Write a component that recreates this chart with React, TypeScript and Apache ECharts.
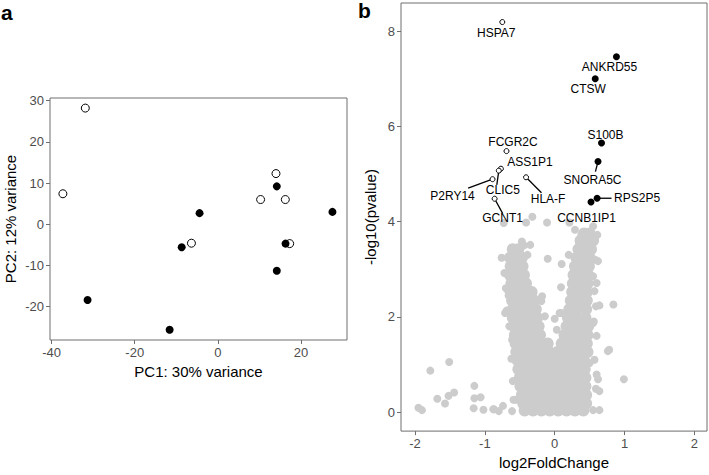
import React, { useEffect, useRef } from "react";
import * as echarts from "echarts";

// ---------- Panel a: PCA ----------
const PCA_OPEN_X = [-31.9, -37.3, 14.0, 10.3, 16.25, -6.35, 17.3];
const PCA_OPEN_Y = [28.2, 7.4, 12.3, 6.0, 6.0, -4.6, -4.7];
const PCA_FILLED_X = [14.2, -4.4, 27.6, -8.7, 16.3, 14.2, -31.35, -11.6];
const PCA_FILLED_Y = [9.2, 2.7, 3.0, -5.6, -4.7, -11.3, -18.4, -25.6];
const PCA_X_TICKS = [-40, -20, 0, 20];
const PCA_Y_TICKS = [-20, -10, 0, 10, 20, 30];

// ---------- Panel b: volcano ----------
const VOLC_X_TICKS = [-2, -1, 0, 1, 2];
const VOLC_Y_TICKS = [0, 2, 4, 6, 8];

const OPEN_GENES = ["HSPA7", "FCGR2C", "ASS1P1", "CLIC5", "P2RY14", "HLA-F", "GCNT1"];
const OPEN_LFC = [-0.75, -0.69, -0.77, -0.8, -0.89, -0.41, -0.86];
const OPEN_P = [8.19, 5.48, 5.11, 5.07, 4.89, 4.93, 4.48];

const FILLED_GENES = ["ANKRD55", "CTSW", "S100B", "SNORA5C", "RPS2P5", "CCNB1IP1"];
const FILLED_LFC = [0.884, 0.58, 0.67, 0.62, 0.607, 0.52];
const FILLED_P = [7.46, 7.0, 5.65, 5.26, 4.49, 4.41];

// dense part of the gene cloud, row by row: [ -log10 p, log2FC values... ]
const CLOUD_ROWS: number[][] = [
  [3.75, 0.42, 0.5],
  [3.6, 0.37, 0.47, 0.55],
  [3.42, -0.6, -0.52, 0.34, 0.44, 0.52],
  [3.24, -0.64, -0.55, -0.47, 0.31, 0.41, 0.5],
  [3.06, -0.63, -0.53, -0.46, 0.29, 0.39, 0.49],
  [2.88, -0.64, -0.54, -0.44, 0.27, 0.37, 0.48],
  [2.7, -0.62, -0.52, -0.41, 0.26, 0.36, 0.47],
  [2.52, -0.63, -0.53, -0.42, -0.33, 0.25, 0.35, 0.46],
  [2.34, -0.61, -0.51, -0.4, -0.29, 0.23, 0.34, 0.46],
  [2.16, -0.6, -0.5, -0.39, -0.27, 0.21, 0.32, 0.45],
  [1.98, -0.6, -0.49, -0.37, -0.25, 0.19, 0.3, 0.44],
  [1.8, -0.58, -0.47, -0.35, -0.23, 0.17, 0.28, 0.4, 0.48],
  [1.62, -0.57, -0.46, -0.34, -0.21, 0.14, 0.26, 0.38, 0.47],
  [1.44, -0.56, -0.45, -0.33, -0.21, -0.1, 0.1, 0.22, 0.34, 0.46],
  [1.26, -0.55, -0.44, -0.32, -0.2, -0.08, 0.04, 0.16, 0.28, 0.4, 0.47],
  [1.08, -0.53, -0.42, -0.3, -0.18, -0.06, 0.06, 0.18, 0.3, 0.42],
  [0.9, -0.52, -0.41, -0.29, -0.17, -0.05, 0.07, 0.19, 0.31, 0.43],
  [0.72, -0.5, -0.38, -0.26, -0.14, -0.02, 0.1, 0.22, 0.34, 0.44],
  [0.54, -0.49, -0.38, -0.26, -0.14, -0.02, 0.1, 0.22, 0.34, 0.44],
  [0.36, -0.47, -0.35, -0.23, -0.11, 0.01, 0.13, 0.25, 0.37, 0.45],
  [0.18, -0.45, -0.34, -0.22, -0.1, 0.02, 0.14, 0.26, 0.38, 0.45],
  [0.03, -0.43, -0.31, -0.19, -0.07, 0.05, 0.17, 0.29, 0.41],
];

// individual genes at the edge of the cloud and outliers
const SCATTER_LFC = [
  -0.73, -0.41, -0.32, -0.11, 0.21, 0.29, 0.38, 0.48, 0.55, 0.61, 0.45, 0.52, 0.35,
  -0.35, -0.53, -0.44, -0.62, -0.72, -0.76, -0.69, -0.66, -0.7,
  -0.1, 0.1, 0.09, 0.1, 0.0, 0.03, -0.18, -0.19, -0.14, 0.07,
  0.84, 0.64, 0.59, 0.78, 0.76, 0.99, 0.6, 0.62, 0.59, 0.64, 0.55, 0.64, 0.38, 0.57, 0.55, 0.58, 0.6, 0.56, 0.57,
  -1.95, -1.9, -1.78, -1.51, -1.68, -1.57, -1.52, -1.44, -1.15, -1.15, -1.06, -1.16, -1.02, -0.88, -0.8, -0.74,
  -0.61, -0.59, -0.6, -0.62, -0.87,
  -0.67, -0.71, -0.65, -0.61, -0.55, 0.62, 0.6, 0.55, 0.5, -0.39, -0.47, 0.2, -0.24, 0.14,
];
const SCATTER_P = [
  3.97, 3.98, 4.1, 3.98, 3.98, 3.83, 3.72, 3.72, 3.9, 3.72, 3.6, 3.62, 3.55,
  3.51, 3.18, 3.5, 3.44, 2.92, 3.24, 2.13, 2.45, 2.6,
  3.22, 3.11, 2.62, 2.08, 1.96, 1.73, 2.43, 2.33, 2.01, 2.08,
  2.26, 2.24, 2.22, 1.31, 1.28, 0.69, 0.79, 0.69, 0.49, 0.44, 0.04, 0.04, 0.04, 2.54, 2.85, 3.2, 1.6, 1.9, 1.1,
  0.09, 0.04, 0.87, 1.05, 0.28, 0.18, 0.34, 0.41, 0.55, 0.29, 0.31, 0.08, 0.05, 0.06, 0.02, 0.13,
  0.02, 0.26, 0.65, 1.12, 0.06,
  2.92, 2.08, 1.8, 1.52, 0.26, 3.17, 2.71, 1.87, 1.03, 3.3, 3.58, 3.3, 1.6, 1.48,
];

// label placement (pixel offsets from the point) and leader-line end (pixel offsets)
const LABEL_PLACE: Record<string, { dx: number; dy: number; lx?: number; ly?: number }> = {
  HSPA7: { dx: -6, dy: 10.5 },
  ANKRD55: { dx: -7, dy: 10 },
  CTSW: { dx: -7, dy: 10.5 },
  S100B: { dx: 4, dy: -8 },
  FCGR2C: { dx: 6.5, dy: -9 },
  ASS1P1: { dx: 29, dy: -7 },
  SNORA5C: { dx: -5.5, dy: 18.5, lx: -2.6, ly: 10 },
  P2RY14: { dx: -40, dy: 16.5, lx: -24.4, ly: 9 },
  CLIC5: { dx: 4, dy: 19, lx: -2, ly: 14.3 },
  "HLA-F": { dx: 22, dy: 22, lx: 15.4, ly: 15.4 },
  RPS2P5: { dx: 40, dy: 0, lx: 14.4, ly: 0 },
  GCNT1: { dx: 8, dy: 19.5, lx: 8, ly: 14.6 },
  CCNB1IP1: { dx: -4.5, dy: 16 },
};

const FONT = "'Liberation Sans', Arial, Helvetica, sans-serif";
const GREY = "#cccccc";
const FRAME = "#6e6e6e";

function valueAxis(
  gridIndex: number,
  min: number,
  max: number,
  ticks: number[],
  name: string,
  nameGap: number,
  isY: boolean
) {
  return {
    type: "value",
    gridIndex,
    min,
    max,
    name,
    nameLocation: "middle",
    nameGap,
    nameRotate: isY ? 90 : 0,
    nameTextStyle: { fontFamily: FONT, fontSize: 15, color: "#000" },
    axisLine: { show: false, onZero: false },
    axisTick: {
      show: true,
      inside: false,
      length: 4,
      customValues: ticks,
      lineStyle: { color: FRAME, width: 1 },
    },
    axisLabel: {
      show: true,
      customValues: ticks,
      fontFamily: FONT,
      fontSize: 13,
      color: "#4d4d4d",
      margin: 6,
    },
    splitLine: { show: false },
  };
}

function labelled(names: string[], xs: number[], ys: number[]) {
  return names.map((n, i) => {
    const p = LABEL_PLACE[n];
    return {
      name: n,
      value: [xs[i], ys[i]],
      label: {
        show: true,
        position: "inside",
        offset: [p.dx, p.dy],
        formatter: n,
        fontFamily: FONT,
        fontSize: 12,
        color: "#000",
      },
    };
  });
}

function leaders(names: string[], xs: number[], ys: number[]) {
  const out: number[][] = [];
  names.forEach((n, i) => {
    const p = LABEL_PLACE[n];
    if (p.lx !== undefined && p.ly !== undefined) out.push([xs[i], ys[i], p.lx, p.ly]);
  });
  return out;
}

export default function App() {
  const ref = useRef<HTMLDivElement>(null);

  useEffect(() => {
    if (!ref.current) return;
    const chart = echarts.init(ref.current, undefined, { renderer: "svg" });

    const cloud: number[][] = [];
    CLOUD_ROWS.forEach((row) => {
      for (let k = 1; k < row.length; k++) cloud.push([row[k], row[0]]);
    });
    const scatter = SCATTER_LFC.map((x, i) => [x, SCATTER_P[i]]);
    const leaderData = [
      ...leaders(OPEN_GENES, OPEN_LFC, OPEN_P),
      ...leaders(FILLED_GENES, FILLED_LFC, FILLED_P),
    ];

    const option: any = {
      animation: false,
      backgroundColor: "#fff",
      textStyle: { fontFamily: FONT },
      grid: [
        { left: 50, top: 98, width: 297, height: 242, show: true, borderColor: FRAME, borderWidth: 1, backgroundColor: "transparent" },
        { left: 401, top: 3, width: 306, height: 429, show: true, borderColor: FRAME, borderWidth: 1, backgroundColor: "transparent" },
      ],
      xAxis: [
        valueAxis(0, -40.4, 31.1, PCA_X_TICKS, "PC1: 30% variance", 24, false),
        valueAxis(1, -2.2, 2.18, VOLC_X_TICKS, "log2FoldChange", 23, false),
      ],
      yAxis: [
        valueAxis(0, -28.1, 30.65, PCA_Y_TICKS, "PC2: 12% variance", 32, true),
        valueAxis(1, -0.4, 8.59, VOLC_Y_TICKS, "-log10(pvalue)", 23, true),
      ],
      graphic: [
        { type: "text", left: 1, top: 2, style: { text: "a", font: `bold 21px ${FONT}`, fill: "#000" } },
        { type: "text", left: 358, top: 0, style: { text: "b", font: `bold 21px ${FONT}`, fill: "#000" } },
      ],
      series: [
        {
          type: "scatter",
          xAxisIndex: 0,
          yAxisIndex: 0,
          symbol: "circle",
          symbolSize: 8,
          itemStyle: { color: "#fff", borderColor: "#000", borderWidth: 1, opacity: 1 },
          data: PCA_OPEN_X.map((x, i) => [x, PCA_OPEN_Y[i]]),
        },
        {
          type: "scatter",
          xAxisIndex: 0,
          yAxisIndex: 0,
          symbol: "circle",
          symbolSize: 8,
          itemStyle: { color: "#000", opacity: 1 },
          data: PCA_FILLED_X.map((x, i) => [x, PCA_FILLED_Y[i]]),
        },
        {
          type: "scatter",
          xAxisIndex: 1,
          yAxisIndex: 1,
          symbol: "circle",
          symbolSize: 12,
          itemStyle: { color: GREY, opacity: 1 },
          data: cloud,
          silent: true,
        },
        {
          type: "scatter",
          xAxisIndex: 1,
          yAxisIndex: 1,
          symbol: "circle",
          symbolSize: 8,
          itemStyle: { color: GREY, opacity: 1 },
          data: scatter,
          silent: true,
        },
        {
          type: "custom",
          xAxisIndex: 1,
          yAxisIndex: 1,
          silent: true,
          encode: { x: 0, y: 1 },
          data: leaderData,
          renderItem: (_params: any, api: any) => {
            const c = api.coord([api.value(0), api.value(1)]);
            return {
              type: "line",
              shape: { x1: c[0], y1: c[1], x2: c[0] + api.value(2), y2: c[1] + api.value(3) },
              style: { stroke: "#000", lineWidth: 1.3 },
            };
          },
        },
        {
          type: "scatter",
          xAxisIndex: 1,
          yAxisIndex: 1,
          symbol: "circle",
          symbolSize: 5,
          itemStyle: { color: "#fff", borderColor: "#000", borderWidth: 1, opacity: 1 },
          data: labelled(OPEN_GENES, OPEN_LFC, OPEN_P),
        },
        {
          type: "scatter",
          xAxisIndex: 1,
          yAxisIndex: 1,
          symbol: "circle",
          symbolSize: 7,
          itemStyle: { color: "#000", opacity: 1 },
          data: labelled(FILLED_GENES, FILLED_LFC, FILLED_P),
        },
      ],
    };

    chart.setOption(option);
    return () => chart.dispose();
  }, []);

  return (
    <div
      ref={ref}
      style={{ position: "fixed", left: 0, top: 0, width: 709, height: 475, background: "#fff" }}
    />
  );
}
